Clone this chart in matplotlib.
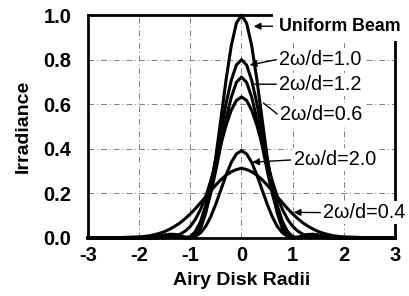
import numpy as np
import matplotlib
matplotlib.use('Agg')
import matplotlib.pyplot as plt

plt.rcParams['axes.unicode_minus'] = False

# half profiles (symmetric about 0)
r_half = [0.0, 0.1, 0.2, 0.3, 0.4, 0.5, 0.6, 0.7, 0.8, 0.9, 1.0, 1.1, 1.2, 1.3, 1.4,
          1.5, 1.6, 1.7, 1.8, 1.9, 2.0, 2.5, 3.0]
uniform = [1.0, 0.964, 0.862, 0.712, 0.538, 0.367, 0.221, 0.111, 0.042, 0.009, 0.0, 0.004,
           0.011, 0.016, 0.017, 0.013, 0.007, 0.002, 0.0, 0.001, 0.002, 0.001, 0.0]
w10 = [0.800, 0.776, 0.707, 0.605, 0.481, 0.356, 0.241, 0.145, 0.074, 0.029, 0.006, 0.002,
       0.003, 0.007, 0.011, 0.012, 0.010, 0.006, 0.003, 0.001, 0.0, 0.001, 0.0]
w12 = [0.722, 0.698, 0.631, 0.536, 0.420, 0.305, 0.200, 0.117, 0.056, 0.020, 0.003, 0.001,
       0.004, 0.009, 0.011, 0.012, 0.009, 0.005, 0.002, 0.001, 0.0, 0.001, 0.0]
w06 = [0.633, 0.617, 0.573, 0.506, 0.424, 0.339, 0.257, 0.186, 0.128, 0.084, 0.052, 0.031,
       0.017, 0.009, 0.005, 0.002, 0.001, 0.0, 0.0, 0.0, 0.0, 0.0, 0.0]
w20 = [0.392, 0.377, 0.339, 0.283, 0.218, 0.153, 0.096, 0.052, 0.023, 0.007, 0.0, 0.001,
       0.004, 0.005, 0.007, 0.006, 0.004, 0.002, 0.001, 0.0, 0.0, 0.001, 0.0]
w04 = [0.313, 0.307, 0.297, 0.282, 0.262, 0.238, 0.212, 0.185, 0.158, 0.132, 0.108, 0.087,
       0.068, 0.053, 0.040, 0.029, 0.021, 0.015, 0.010, 0.007, 0.005, 0.001, 0.0]

curves = [uniform, w10, w12, w06, w20, w04]
labels = ['Uniform Beam', '2\u03c9/d=1.0', '2\u03c9/d=1.2', '2\u03c9/d=0.6', '2\u03c9/d=2.0', '2\u03c9/d=0.4']
# label text position (x, y) and arrow tip (x, y)
lab_pos = [(0.74, 0.95), (0.74, 0.80), (0.74, 0.69), (0.76, 0.556), (1.02, 0.35), (1.6, 0.114)]
tip_pos = [(0.24, 0.95), (0.16, 0.776), (0.23, 0.69), (0.43, 0.605), (0.21, 0.34), (1.02, 0.115)]
heads = [True, True, False, False, True, True]

xticks = [-3, -2, -1, 0, 1, 2, 3]
yticks = [0.0, 0.2, 0.4, 0.6, 0.8, 1.0]

fig = plt.figure(figsize=(4.1, 2.96), dpi=100)
ax = fig.add_subplot(1, 1, 1)
fig.subplots_adjust(left=0.2146, right=0.9634, bottom=0.196, top=0.949)

r = np.array(r_half)
for c in curves:
    v = np.array(c)
    x = np.concatenate([-r[::-1], r[1:]])
    y = np.concatenate([v[::-1], v[1:]])
    ax.plot(x, y, color='black', linewidth=2.2, clip_on=False, zorder=4)

for i in range(len(labels)):
    fw = 'bold' if i == 0 else 'normal'
    pad = 4.5 if i == 0 else 1.5
    fs = 12.8 if i == 0 else 14.3
    ax.text(lab_pos[i][0], lab_pos[i][1], labels[i], ha='left', va='center',
            fontsize=fs, fontweight=fw, family=['Liberation Sans', 'DejaVu Sans'],
            bbox=dict(facecolor='white', edgecolor='none', pad=pad), zorder=6)
    if heads[i]:
        st = '-|>'
    else:
        st = '-'
    ax.annotate('', xy=tip_pos[i], xytext=(lab_pos[i][0] - 0.06, lab_pos[i][1]),
                arrowprops=dict(arrowstyle=st, color='black', lw=1.0,
                                mutation_scale=10, shrinkA=0, shrinkB=0),
                zorder=5)

ax.set_xlim(-3, 3)
ax.set_ylim(0, 1.0)
ax.set_xticks(xticks)
ax.set_yticks(yticks)
ax.set_xticklabels([str(t) for t in xticks])
ax.set_yticklabels(['%.1f' % t for t in yticks])
ax.tick_params(length=0, pad=6, labelsize=14.5)
ax.tick_params(axis='y', pad=12)
for lab in ax.get_xticklabels() + ax.get_yticklabels():
    lab.set_family(['Liberation Sans', 'DejaVu Sans'])
    lab.set_fontweight('bold')
ax.grid(True, color='0.5', linewidth=0.7, linestyle=(0, (6, 3, 1, 3)))
for s in ax.spines.values():
    s.set_linewidth(2.0)

ax.set_xlabel('Airy Disk Radii', fontsize=14, fontweight='bold',
              family=['Liberation Sans', 'DejaVu Sans'], labelpad=5)
ax.set_ylabel('Irradiance', fontsize=14, fontweight='bold',
              family=['Liberation Sans', 'DejaVu Sans'], labelpad=8)

plt.savefig('out.png', dpi=100)
